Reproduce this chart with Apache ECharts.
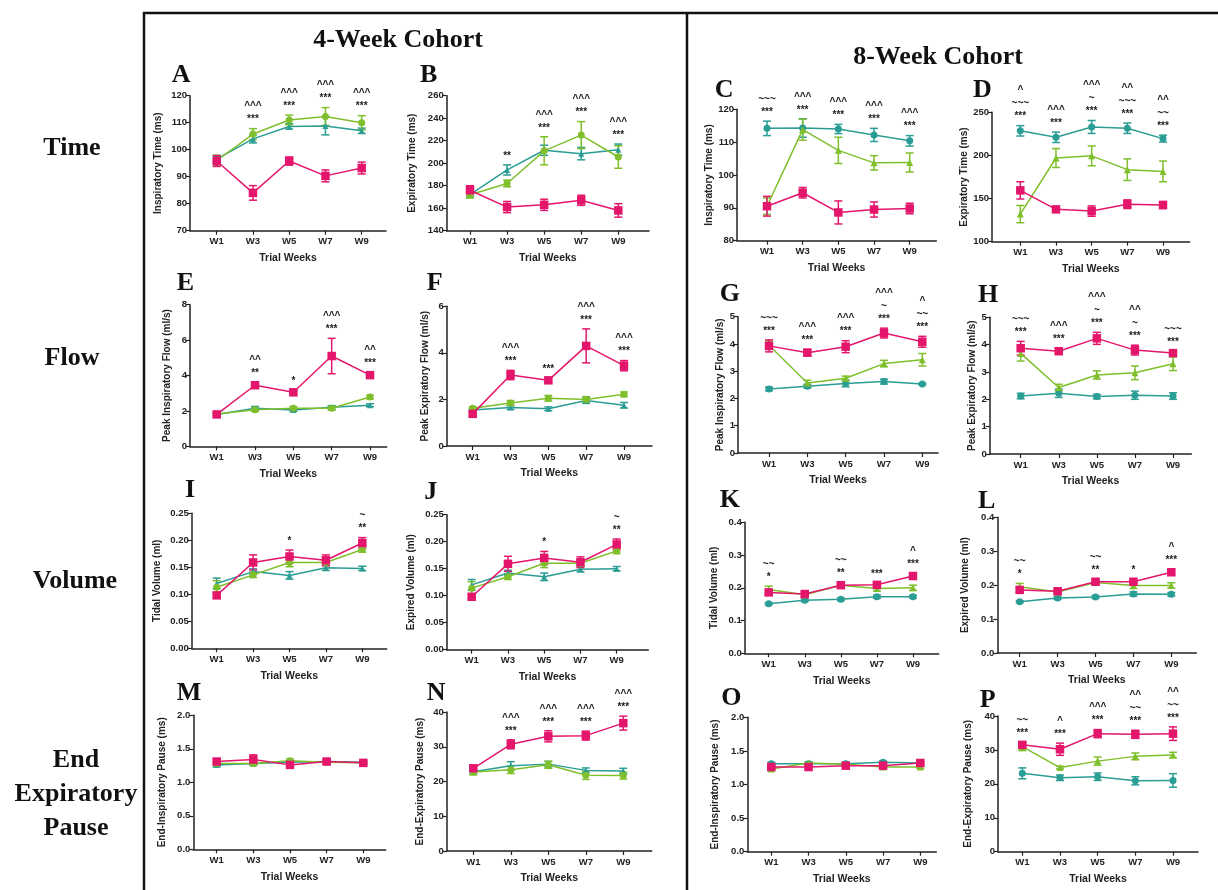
<!DOCTYPE html>
<html>
<head>
<meta charset="utf-8">
<script src="https://cdn.jsdelivr.net/npm/echarts@6/dist/echarts.min.js"></script>
<style>
  html, body { margin: 0; background: #fff; }
  #chart { width: 1218px; height: 890px; }
</style>
</head>
<body>
<div id="chart"></div>
<script>
// trial weeks on the x axis
const weeks = [1, 3, 5, 7, 9];

// A - 4-week, inspiratory time
const A_pink = [95.8, 84.0, 95.8, 90.3, 93.2];
const A_pinkErr = [2.0, 2.7, 1.5, 2.2, 2.2];
const A_green = [96.0, 105.8, 111.0, 112.3, 110.0];
const A_greenErr = [2.0, 2.0, 1.8, 3.3, 2.6];
const A_teal = [96.5, 104.0, 108.6, 108.8, 107.0];
const A_tealErr = [1.0, 1.5, 1.0, 3.3, 1.0];
const A_marks = [[], ['***', '^^^'], ['***', '^^^'], ['***', '^^^'], ['***', '^^^']];

// B - 4-week, expiratory time
const B_pink = [176, 161, 163, 167, 158];
const B_pinkErr = [4, 5, 5, 4.5, 6];
const B_green = [172, 182, 211, 225, 205.5];
const B_greenErr = [3, 3, 12.5, 12, 10];
const B_teal = [172, 194, 211.5, 208.5, 212];
const B_tealErr = [2, 4.5, 4.5, 5.5, 5];
const B_marks = [[], ['**'], ['***', '^^^'], ['***', '^^^'], ['***', '^^^']];

// C - 8-week, inspiratory time
const C_pink = [90.5, 94.6, 88.6, 89.5, 89.8];
const C_pinkErr = [3.0, 1.6, 3.5, 2.3, 1.6];
const C_green = [90.5, 113.8, 107.5, 103.7, 103.8];
const C_greenErr = [2.5, 3.2, 4.0, 2.2, 2.9];
const C_teal = [114.2, 114.3, 114.0, 112.2, 110.4];
const C_tealErr = [2.2, 2.8, 1.4, 2.0, 1.6];
const C_marks = [['***', '~~~'], ['***', '^^^'], ['***', '^^^'], ['***', '^^^'], ['***', '^^^']];

// D - 8-week, expiratory time
const D_pink = [159.5, 137.5, 135.5, 143.5, 142.5];
const D_pinkErr = [10, 3, 6, 5, 4];
const D_green = [132, 197, 199.5, 183.5, 181.5];
const D_greenErr = [10, 11, 11.5, 12.5, 12];
const D_teal = [228.5, 221, 233, 231.5, 219.5];
const D_tealErr = [6, 6, 7.5, 6, 4];
const D_marks = [['***', '~~~', '^'], ['***', '^^^'], ['***', '~', '^^^'], ['***', '~~~', '^^'], ['***', '~~', '^^']];

// E - 4-week, peak inspiratory flow
const E_pink = [1.80, 3.45, 3.05, 5.10, 4.02];
const E_pinkErr = [0.10, 0.15, 0.12, 1.00, 0.15];
const E_green = [1.82, 2.07, 2.15, 2.15, 2.78];
const E_greenErr = [0.08, 0.10, 0.10, 0.10, 0.10];
const E_teal = [1.80, 2.15, 2.05, 2.20, 2.32];
const E_tealErr = [0.05, 0.10, 0.08, 0.10, 0.08];
const E_marks = [[], ['**', '^^'], ['*'], ['***', '^^^'], ['***', '^^']];

// F - 4-week, peak expiratory flow
const F_pink = [1.38, 3.05, 2.82, 4.30, 3.45];
const F_pinkErr = [0.08, 0.20, 0.10, 0.73, 0.22];
const F_green = [1.62, 1.85, 2.05, 2.00, 2.22];
const F_greenErr = [0.06, 0.10, 0.12, 0.12, 0.10];
const F_teal = [1.55, 1.65, 1.60, 1.95, 1.75];
const F_tealErr = [0.05, 0.08, 0.08, 0.12, 0.12];
const F_marks = [[], ['***', '^^^'], ['***'], ['***', '^^^'], ['***', '^^^']];

// G - 8-week, peak inspiratory flow
const G_pink = [3.93, 3.68, 3.90, 4.40, 4.08];
const G_pinkErr = [0.22, 0.12, 0.22, 0.18, 0.20];
const G_green = [3.95, 2.57, 2.74, 3.28, 3.42];
const G_greenErr = [0.15, 0.10, 0.08, 0.12, 0.23];
const G_teal = [2.35, 2.45, 2.55, 2.62, 2.53];
const G_tealErr = [0.07, 0.07, 0.12, 0.09, 0.03];
const G_marks = [['***', '~~~'], ['***', '^^^'], ['***', '^^^'], ['***', '~', '^^^'], ['***', '~~', '^']];

// H - 8-week, peak expiratory flow
const H_pink = [3.87, 3.76, 4.23, 3.80, 3.69];
const H_pinkErr = [0.25, 0.10, 0.22, 0.18, 0.07];
const H_green = [3.68, 2.43, 2.89, 2.97, 3.30];
const H_greenErr = [0.28, 0.12, 0.15, 0.25, 0.25];
const H_teal = [2.12, 2.22, 2.10, 2.15, 2.12];
const H_tealErr = [0.10, 0.15, 0.08, 0.15, 0.12];
const H_marks = [['***', '~~~'], ['***', '^^^'], ['***', '~', '^^^'], ['***', '~', '^^'], ['***', '~~~']];

// I - 4-week, tidal volume
const I_pink = [0.098, 0.159, 0.170, 0.163, 0.195];
const I_pinkErr = [0.005, 0.014, 0.012, 0.010, 0.010];
const I_green = [0.113, 0.136, 0.159, 0.159, 0.183];
const I_greenErr = [0.012, 0.005, 0.008, 0.006, 0.005];
const I_teal = [0.120, 0.142, 0.135, 0.149, 0.148];
const I_tealErr = [0.010, 0.005, 0.007, 0.005, 0.004];
const I_marks = [[], [], ['*'], [], ['**', '~']];

// J - 4-week, expired volume
const J_pink = [0.098, 0.159, 0.170, 0.162, 0.195];
const J_pinkErr = [0.005, 0.014, 0.012, 0.010, 0.010];
const J_green = [0.114, 0.135, 0.160, 0.160, 0.183];
const J_greenErr = [0.012, 0.005, 0.008, 0.006, 0.005];
const J_teal = [0.120, 0.142, 0.135, 0.149, 0.150];
const J_tealErr = [0.010, 0.005, 0.007, 0.005, 0.004];
const J_marks = [[], [], ['*'], [], ['**', '~']];

// K - 8-week, tidal volume
const K_pink = [0.186, 0.181, 0.208, 0.209, 0.236];
const K_pinkErr = [0.008, 0.008, 0.008, 0.006, 0.008];
const K_green = [0.195, 0.179, 0.208, 0.198, 0.200];
const K_greenErr = [0.010, 0.006, 0.005, 0.008, 0.008];
const K_teal = [0.151, 0.162, 0.165, 0.173, 0.173];
const K_tealErr = [0.003, 0.004, 0.004, 0.005, 0.004];
const K_marks = [['*', '~~'], [], ['**', '~~'], ['***'], ['***', '^']];

// L - 8-week, expired volume
const L_pink = [0.186, 0.182, 0.210, 0.210, 0.238];
const L_pinkErr = [0.008, 0.007, 0.008, 0.006, 0.008];
const L_green = [0.195, 0.180, 0.208, 0.199, 0.199];
const L_greenErr = [0.010, 0.006, 0.005, 0.009, 0.008];
const L_teal = [0.151, 0.162, 0.165, 0.174, 0.173];
const L_tealErr = [0.003, 0.004, 0.004, 0.006, 0.005];
const L_marks = [['*', '~~'], [], ['**', '~~'], ['*'], ['***', '^']];

// M - 4-week, end-inspiratory pause
const M_pink = [1.31, 1.34, 1.26, 1.31, 1.29];
const M_pinkErr = [0.03, 0.07, 0.03, 0.03, 0.02];
const M_green = [1.28, 1.28, 1.32, 1.30, 1.29];
const M_greenErr = [0.03, 0.03, 0.03, 0.03, 0.02];
const M_teal = [1.26, 1.28, 1.30, 1.31, 1.30];
const M_tealErr = [0.03, 0.02, 0.02, 0.02, 0.02];
const M_marks = [[], [], [], [], []];

// N - 4-week, end-expiratory pause
const N_pink = [23.8, 30.7, 33.0, 33.2, 36.8];
const N_pinkErr = [0.8, 1.3, 1.6, 1.3, 2.0];
const N_green = [22.7, 23.4, 24.8, 21.8, 21.7];
const N_greenErr = [0.8, 1.1, 1.0, 1.2, 1.0];
const N_teal = [22.8, 24.5, 25.0, 23.2, 23.0];
const N_tealErr = [0.6, 1.2, 0.8, 0.7, 0.8];
const N_marks = [[], ['***', '^^^'], ['***', '^^^'], ['***', '^^^'], ['***', '^^^']];

// O - 8-week, end-inspiratory pause
const O_pink = [1.26, 1.26, 1.28, 1.28, 1.32];
const O_pinkErr = [0.02, 0.02, 0.02, 0.02, 0.02];
const O_green = [1.23, 1.32, 1.30, 1.26, 1.26];
const O_greenErr = [0.02, 0.02, 0.02, 0.02, 0.02];
const O_teal = [1.31, 1.31, 1.31, 1.33, 1.32];
const O_tealErr = [0.02, 0.02, 0.02, 0.02, 0.02];
const O_marks = [[], [], [], [], []];

// P - 8-week, end-expiratory pause
const P_pink = [31.5, 30.2, 34.8, 34.6, 34.8];
const P_pinkErr = [0.8, 1.8, 1.2, 1.2, 2.0];
const P_green = [31.0, 24.8, 26.7, 28.1, 28.5];
const P_greenErr = [1.2, 0.4, 1.2, 1.0, 0.8];
const P_teal = [23.1, 21.8, 22.1, 20.9, 21.0];
const P_tealErr = [1.6, 0.8, 1.1, 1.2, 2.0];
const P_marks = [['***', '~~'], ['***', '^'], ['***', '^^^'], ['***', '~~', '^^'], ['***', '~~', '^^']];

const PINK = '#e3166c';
const GREEN = '#7fbf2b';
const TEAL = '#2a9d94';
const AXIS = '#222';
const SANS = '"Liberation Sans", Arial, sans-serif';
const SERIF = '"Liberation Serif", "Times New Roman", serif';

// panel layout: axis left/right, W1 and W9 pixel x, plot top/bottom, y-name distance
const panels = [
  { id: 'A', cohort: 4, box: [190, 386, 216.7, 361.7, 95.7, 230.7, 32.7], letter: [171.7, 75], y: [70, 120, 10, 0], name: 'Inspiratory Time (ms)',
    d: [A_pink, A_pinkErr, A_green, A_greenErr, A_teal, A_tealErr], marks: A_marks },
  { id: 'B', cohort: 4, box: [446.7, 649, 470, 618.3, 95.7, 230.7, 35], letter: [420, 75], y: [140, 260, 20, 0], name: 'Expiratory Time (ms)',
    d: [B_pink, B_pinkErr, B_green, B_greenErr, B_teal, B_tealErr], marks: B_marks },
  { id: 'C', cohort: 8, box: [737, 936.3, 767, 909.7, 109.3, 240.7, 28.3], letter: [714.7, 90], y: [80, 120, 10, 0], name: 'Inspiratory Time (ms)',
    d: [C_pink, C_pinkErr, C_green, C_greenErr, C_teal, C_tealErr], marks: C_marks },
  { id: 'D', cohort: 8, box: [992, 1189.7, 1020.3, 1163, 112.3, 241.7, 29], letter: [973, 90], y: [100, 250, 50, 0], name: 'Expiratory Time (ms)',
    d: [D_pink, D_pinkErr, D_green, D_greenErr, D_teal, D_tealErr], marks: D_marks },
  { id: 'E', cohort: 4, box: [190, 386.7, 216.7, 370, 304.7, 446.3, 23.3], letter: [176.7, 283.7], y: [0, 8, 2, 0], name: 'Peak Inspiratory Flow (ml/s)',
    d: [E_pink, E_pinkErr, E_green, E_greenErr, E_teal, E_tealErr], marks: E_marks },
  { id: 'F', cohort: 4, box: [446.7, 652, 472.7, 624, 306.3, 446, 22.4], letter: [426.7, 283.7], y: [0, 6, 2, 0], name: 'Peak Expiratory Flow (ml/s)',
    d: [F_pink, F_pinkErr, F_green, F_greenErr, F_teal, F_tealErr], marks: F_marks },
  { id: 'G', cohort: 8, box: [738, 938, 769, 922.3, 316.7, 453, 18.3], letter: [719.7, 294.7], y: [0, 5, 1, 0], name: 'Peak Inspiratory Flow (ml/s)',
    d: [G_pink, G_pinkErr, G_green, G_greenErr, G_teal, G_tealErr], marks: G_marks },
  { id: 'H', cohort: 8, box: [989.7, 1191.3, 1020.7, 1173, 317.3, 454, 18.4], letter: [978, 295.3], y: [0, 5, 1, 0], name: 'Peak Expiratory Flow (ml/s)',
    d: [H_pink, H_pinkErr, H_green, H_greenErr, H_teal, H_tealErr], marks: H_marks },
  { id: 'I', cohort: 4, box: [191.7, 386.7, 216.7, 362.3, 513.3, 648.3, 35], letter: [185, 490.7], y: [0, 0.25, 0.05, 2], name: 'Tidal Volume (ml)',
    d: [I_pink, I_pinkErr, I_green, I_greenErr, I_teal, I_tealErr], marks: I_marks },
  { id: 'J', cohort: 4, box: [446.7, 648.3, 471.7, 616.7, 514.7, 649.7, 36.7], letter: [424.3, 492.3], y: [0, 0.25, 0.05, 2], name: 'Expired Volume (ml)',
    d: [J_pink, J_pinkErr, J_green, J_greenErr, J_teal, J_tealErr], marks: J_marks },
  { id: 'K', cohort: 8, box: [744.7, 938.7, 768.7, 913, 522.3, 653.3, 31.7], letter: [719.7, 500], y: [0, 0.4, 0.1, 1], name: 'Tidal Volume (ml)',
    d: [K_pink, K_pinkErr, K_green, K_greenErr, K_teal, K_tealErr], marks: K_marks },
  { id: 'L', cohort: 8, box: [997.3, 1196.3, 1019.7, 1171.3, 517.3, 653, 33.3], letter: [978, 501.7], y: [0, 0.4, 0.1, 1], name: 'Expired Volume (ml)',
    d: [L_pink, L_pinkErr, L_green, L_greenErr, L_teal, L_tealErr], marks: L_marks },
  { id: 'M', cohort: 4, box: [193.3, 385.7, 216.7, 363.3, 715.3, 849.3, 31.6], letter: [176.7, 693.7], y: [0, 2, 0.5, 1], name: 'End-Inspiratory Pause (ms)',
    d: [M_pink, M_pinkErr, M_green, M_greenErr, M_teal, M_tealErr], marks: M_marks },
  { id: 'N', cohort: 4, box: [446.7, 651.7, 473.3, 623.3, 712, 851, 27.7], letter: [426.7, 693.7], y: [0, 40, 10, 0], name: 'End-Expiratory Pause (ms)',
    d: [N_pink, N_pinkErr, N_green, N_greenErr, N_teal, N_tealErr], marks: N_marks },
  { id: 'O', cohort: 8, box: [747.3, 936.3, 771.3, 920.3, 717.3, 851.7, 33.3], letter: [721.3, 698.3], y: [0, 2, 0.5, 1], name: 'End-Inspiratory Pause (ms)',
    d: [O_pink, O_pinkErr, O_green, O_greenErr, O_teal, O_tealErr], marks: O_marks },
  { id: 'P', cohort: 8, box: [998, 1198, 1022.3, 1173, 716, 851.7, 30.7], letter: [979.7, 700], y: [0, 40, 10, 0], name: 'End-Expiratory Pause (ms)',
    d: [P_pink, P_pinkErr, P_green, P_greenErr, P_teal, P_tealErr], marks: P_marks }
];

const chart = echarts.init(document.getElementById('chart'));

const option = {
  animation: false,
  backgroundColor: '#fff',
  grid: [],
  xAxis: [],
  yAxis: [],
  series: [],
  graphic: []
};

function errorBars(color) {
  return (params, api) => {
    const x = api.value(0);
    const lo = api.coord([x, api.value(1)]);
    const hi = api.coord([x, api.value(2)]);
    const st = { stroke: color, lineWidth: 1.5 };
    const c = 4;
    return {
      type: 'group',
      children: [
        { type: 'line', shape: { x1: lo[0], y1: lo[1], x2: hi[0], y2: hi[1] }, style: st },
        { type: 'line', shape: { x1: hi[0] - c, y1: hi[1], x2: hi[0] + c, y2: hi[1] }, style: st },
        { type: 'line', shape: { x1: lo[0] - c, y1: lo[1], x2: lo[0] + c, y2: lo[1] }, style: st }
      ]
    };
  };
}

panels.forEach((p, i) => {
  const [L, R, w1, w9, T, B, yd] = p.box;
  const wk = (w9 - w1) / 8;
  const [ymin, ymax, yint, dec] = p.y;

  option.grid.push({ left: L, top: T, width: R - L, height: B - T });

  option.xAxis.push({
    gridIndex: i,
    type: 'value',
    min: 1 - (w1 - L) / wk,
    max: 9 + (R - w9) / wk,
    axisLine: { show: true, onZero: false, lineStyle: { color: AXIS, width: 1.5 } },
    axisTick: { show: true, customValues: weeks, length: 4, lineStyle: { color: AXIS, width: 1.2 } },
    axisLabel: {
      customValues: weeks,
      formatter: (v) => 'W' + v,
      fontSize: 9.5, fontWeight: 'bold', color: AXIS, fontFamily: SANS, margin: 6
    },
    splitLine: { show: false },
    name: 'Trial Weeks',
    nameLocation: 'middle',
    nameGap: 22,
    nameTextStyle: { fontSize: 10.5, fontWeight: 'bold', color: AXIS, fontFamily: SANS }
  });

  option.yAxis.push({
    gridIndex: i,
    type: 'value',
    min: ymin,
    max: ymax,
    interval: yint,
    axisLine: { show: true, onZero: false, lineStyle: { color: AXIS, width: 1.5 } },
    axisTick: { show: true, length: 4, lineStyle: { color: AXIS, width: 1.2 } },
    axisLabel: {
      formatter: (v) => v.toFixed(dec),
      fontSize: 9.5, fontWeight: 'bold', color: AXIS, fontFamily: SANS, margin: 3
    },
    splitLine: { show: false },
    name: p.name,
    nameLocation: 'middle',
    nameGap: yd - 6,
    nameTextStyle: { fontSize: 10, fontWeight: 'bold', color: AXIS, fontFamily: SANS }
  });

  const groups = [
    { mean: p.d[4], err: p.d[5], color: TEAL, symbol: p.cohort === 4 ? 'triangle' : 'circle', size: p.cohort === 4 ? 6 : 7 },
    { mean: p.d[2], err: p.d[3], color: GREEN, symbol: p.cohort === 4 ? 'circle' : 'triangle', size: 7 },
    { mean: p.d[0], err: p.d[1], color: PINK, symbol: 'rect', size: 8.5 }
  ];

  groups.forEach((g, k) => {
    option.series.push({
      type: 'custom',
      xAxisIndex: i,
      yAxisIndex: i,
      silent: true,
      z: 2 + k * 0.1,
      encode: { x: 0, y: [1, 2] },
      data: weeks.map((w, j) => [w, g.mean[j] - g.err[j], g.mean[j] + g.err[j]]),
      renderItem: errorBars(g.color)
    });
  });

  groups.forEach((g, k) => {
    option.series.push({
      type: 'line',
      xAxisIndex: i,
      yAxisIndex: i,
      silent: true,
      z: 3 + k * 0.1,
      symbol: g.symbol,
      symbolSize: g.size,
      showSymbol: true,
      itemStyle: { color: g.color },
      lineStyle: { color: g.color, width: 1.5 },
      data: weeks.map((w, j) => [w, g.mean[j]])
    });
  });

  // significance marks sit above the highest error bar of each week
  const tops = weeks.map((w, j) => Math.max(...groups.map((g) => g.mean[j] + g.err[j])));
  option.series.push({
    type: 'custom',
    xAxisIndex: i,
    yAxisIndex: i,
    silent: true,
    z: 5,
    encode: { x: 0, y: 1 },
    data: weeks.map((w, j) => [w, tops[j]]),
    renderItem: (params, api) => {
      const lines = p.marks[params.dataIndex];
      if (!lines || !lines.length) return null;
      const pt = api.coord([api.value(0), api.value(1)]);
      return {
        type: 'group',
        children: lines.map((t, j) => ({
          type: 'text',
          x: pt[0],
          y: pt[1] - 9 - 13 * j,
          style: { text: t, fill: '#222', font: 'bold 10px ' + SANS, align: 'center', verticalAlign: 'middle' }
        }))
      };
    }
  });

  option.graphic.push({
    type: 'text',
    x: p.letter[0],
    y: p.letter[1],
    style: { text: p.id, fill: '#111', font: 'bold 26px ' + SERIF, align: 'left', verticalAlign: 'middle' }
  });
});

// cohort headers, row labels and frame
const headers = [
  ['4-Week Cohort', 398, 40],
  ['8-Week Cohort', 938, 57]
];
headers.forEach(([t, x, y]) => {
  option.graphic.push({
    type: 'text', x, y,
    style: { text: t, fill: '#111', font: 'bold 26px ' + SERIF, align: 'center', verticalAlign: 'middle' }
  });
});

const rowLabels = [
  ['Time', 72, 148],
  ['Flow', 72, 358],
  ['Volume', 75, 581],
  ['End\nExpiratory\nPause', 76, 794]
];
rowLabels.forEach(([t, x, y]) => {
  option.graphic.push({
    type: 'text', x, y,
    style: { text: t, fill: '#111', font: 'bold 26px ' + SERIF, align: 'center', verticalAlign: 'middle', lineHeight: 34 }
  });
});

const frame = [
  [143, 13, 1218, 13],
  [144, 12, 144, 890],
  [687, 12, 687, 890]
];
frame.forEach(([x1, y1, x2, y2]) => {
  option.graphic.push({
    type: 'line',
    shape: { x1, y1, x2, y2 },
    style: { stroke: '#111', lineWidth: 2.5 }
  });
});

chart.setOption(option);
</script>
</body>
</html>
